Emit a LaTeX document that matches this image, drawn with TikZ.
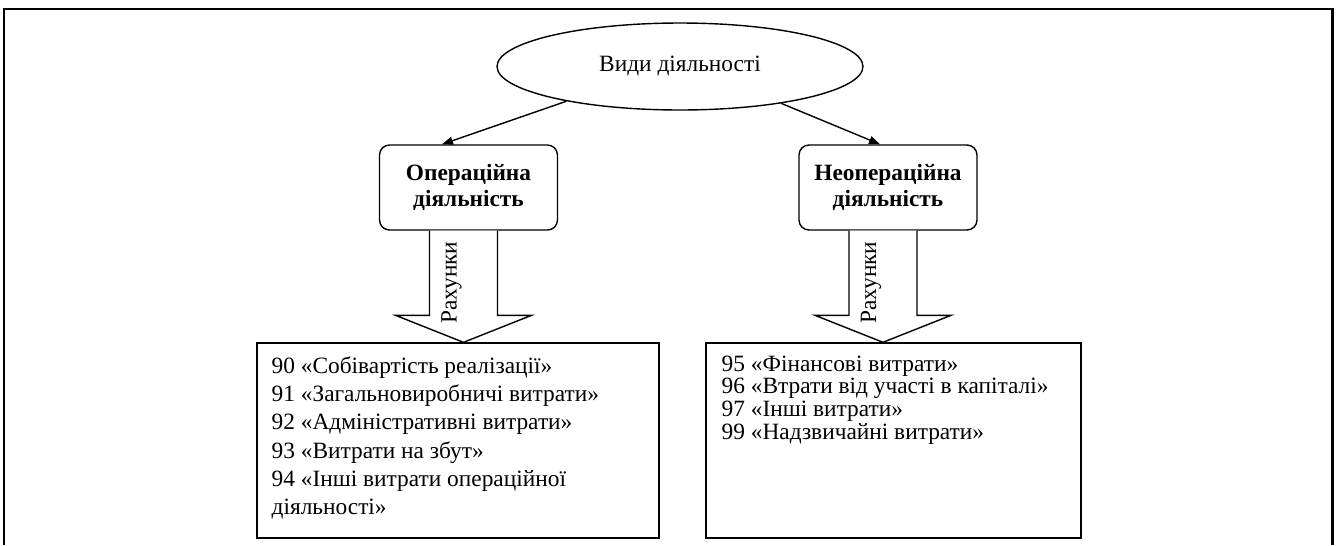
\documentclass[tikz,border=0pt]{standalone}
\usepackage{fontspec}
\setmainfont{Liberation Serif}
\usetikzlibrary{calc,arrows.meta,shapes.geometric}
\def\rahunky(#1)(#2){
	\coordinate (#1-v) at ($(#1.south |- #2.north)+(-5,0)$);
	\draw[blok] ($(#1.south)+(-39,0)$) -- ($(#1-v)+(-34,-27)$) -- ($(#1-v)+(-68,-27)$) -- (#1-v)
		-- ($(#1-v)+(68,-27)$) -- ($(#1-v)+(34,-27)$) -- ($(#1.south)+(29,0)$);
	\node[rotate=90] (#1-r) at ($(#1.south)+(-17,52)$) {Рахунки};
}

\begin{document}
\begin{tikzpicture}[x=0.02cm,y=-0.02cm,
	every node/.style={font=\fontsize{13.3}{15.6}\selectfont},
	vid/.style={draw,ellipse,line width=0.8pt,minimum width=7.32cm,minimum height=1.74cm,inner sep=0pt},
	diyal/.style={draw,rounded corners=0.2cm,line width=0.8pt,minimum width=3.56cm,minimum height=1.7cm,align=center,font=\fontsize{13.3}{14.4}\selectfont\bfseries},
	ramka/.style={draw,line width=0.8pt,minimum height=3.9cm,inner sep=0pt},
	perelik/.style={anchor=north west,inner sep=0pt,align=left},
	strilka/.style={line width=0.8pt,-{Triangle[length=0.22cm,width=0.16cm]}},
	blok/.style={line width=0.8pt,fill=white}]
	%%%%% START %%%%%
	
	\useasboundingbox (0,0) rectangle (1336,545);
	\draw[line width=1.7pt] (4,545) -- (4,9) -- (1332,9) -- (1332,545);
	
	\node[vid] (vydy) at (680,66.5) {Види діяльності};
	
	\node[diyal] (oper) at (468.5,187.5) {Операційна\\діяльність};
	\node[diyal] (neoper) at (888,187.5) {Неопераційна\\діяльність};
	
	\draw[strilka] (vydy.197) -- ([xshift=-0.53cm]oper.north);
	\draw[strilka] (vydy.340) -- ([xshift=-0.16cm]neoper.north);
	
	\node[ramka, minimum width=8.04cm] (oprah) at (458,440.5) {};
	\node[ramka, minimum width=7.5cm] (neoprah) at (893.5,440.5) {};
	
	\node[perelik, font=\fontsize{13.3}{16.1}\selectfont] (opspys) at ($(oprah.north west)+(15,14)$)
		{90 «Собівартість реалізації»\\91 «Загальновиробничі витрати»\\92 «Адміністративні витрати»\\93 «Витрати на збут»\\94 «Інші витрати операційної\\діяльності»};
	\node[perelik, font=\fontsize{13.3}{12.9}\selectfont] (neopspys) at ($(neoprah.north west)+(16,13)$)
		{95 «Фінансові витрати»\\96 «Втрати від участі в капіталі»\\97 «Інші витрати»\\99 «Надзвичайні витрати»};
	
	\rahunky(oper)(oprah)
	\rahunky(neoper)(neoprah)
	
	%%%%% END %%%%%
\end{tikzpicture}
\end{document}
